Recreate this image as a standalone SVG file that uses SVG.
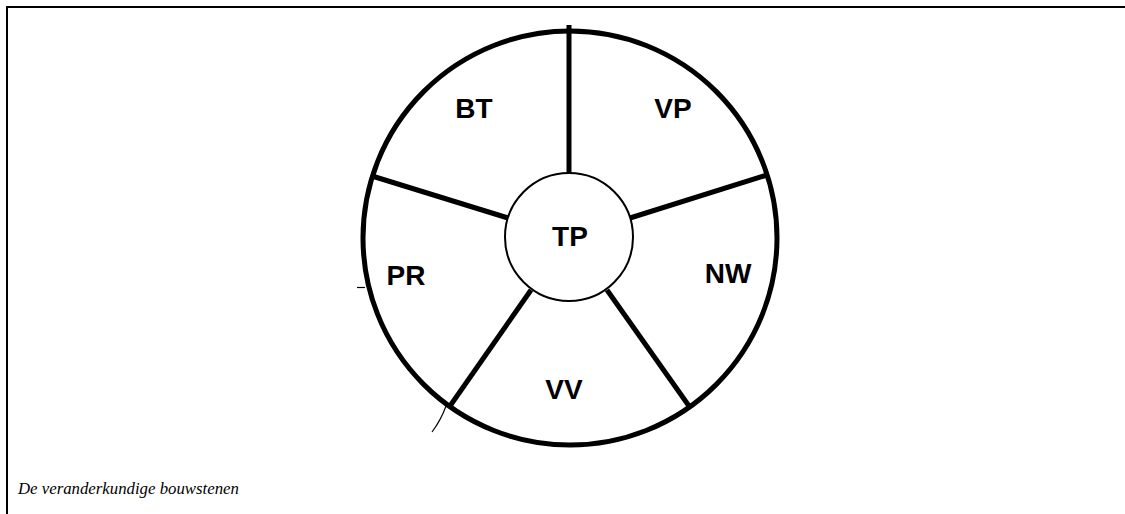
<svg xmlns="http://www.w3.org/2000/svg" width="1125" height="514" viewBox="0 0 1125 514">
<style>
.frame{fill:none;stroke:#000;stroke-width:2}
.outer{fill:#fff;stroke:#000;stroke-width:5}
.inner{fill:#fff;stroke:#000;stroke-width:2}
.spoke{stroke:#000;stroke-width:5;fill:none}
.thin{stroke:#000;stroke-width:1.2;fill:none}
.lbl{font-family:"Liberation Sans",Arial,sans-serif;font-weight:bold;font-size:28px;text-anchor:middle;fill:#000}
.cap{font-family:"Liberation Serif","Times New Roman",serif;font-style:italic;font-size:16.8px;fill:#000}
</style>
<rect width="1125" height="514" fill="#fff"/>
<path class="frame" d="M7 514 V7 H1125"/>
<g id="wheel">
<circle class="outer" cx="570" cy="238" r="207"/>
</g>
<g id="connectors">
<line class="spoke" x1="569" y1="25" x2="569" y2="174"/>
<line class="spoke" x1="767" y1="175" x2="630" y2="218"/>
<line class="spoke" x1="689" y1="406" x2="607" y2="290"/>
<line class="spoke" x1="450" y1="406" x2="531" y2="290"/>
<line class="spoke" x1="372" y1="176" x2="508" y2="218"/>
<line class="thin" x1="357" y1="287.5" x2="365" y2="287.5"/>
<path class="thin" d="M446 406 Q441 420 432 432"/>
</g>
<g id="TP">
<circle class="inner" cx="569" cy="237" r="64"/>
<text class="lbl" x="570" y="246">TP</text>
</g>
<g id="BT"><text class="lbl" x="474" y="118">BT</text></g>
<g id="VP"><text class="lbl" x="673" y="118">VP</text></g>
<g id="PR"><text class="lbl" x="406" y="285">PR</text></g>
<g id="NW"><text class="lbl" x="728" y="283">NW</text></g>
<g id="VV"><text class="lbl" x="564" y="399">VV</text></g>
<text class="cap" x="18" y="494">De veranderkundige bouwstenen</text>
</svg>
